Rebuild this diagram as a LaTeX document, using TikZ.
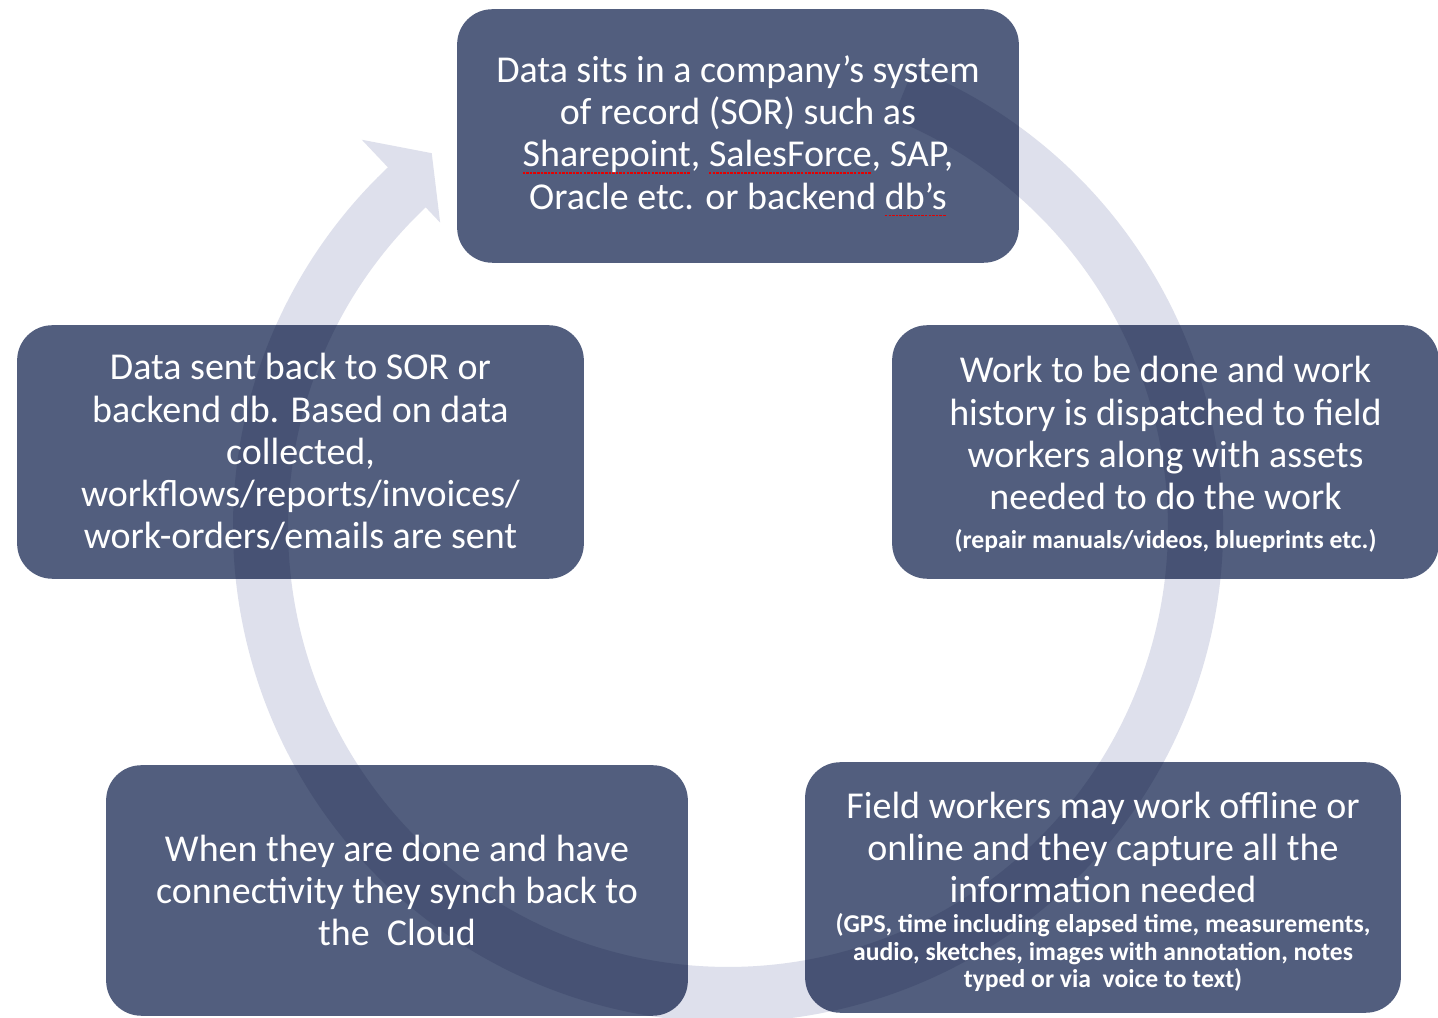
\documentclass[tikz,border=0pt]{standalone}
\usepackage{fontspec}
\setmainfont{Carlito}

\definecolor{cycleblue}{RGB}{82,94,126}
\definecolor{ringgray}{RGB}{222,224,236}

\pgfdeclarelayer{background}
\pgfdeclarelayer{ring}
\pgfsetlayers{background,ring,main}

\newsavebox\spellbox
\newcommand\spellerr[1]{\sbox\spellbox{#1}\rlap{\color{red!90!black}\lower2pt\hbox to \wd\spellbox{\xleaders\hbox{\vrule width 0.7pt height 0.45pt\kern0.3pt}\hfil}}\usebox\spellbox}
\newcommand\smallprint[1]{{\fontsize{7.3}{7.8}\selectfont\bfseries\begin{tabular}[t]{@{}c@{}}#1\end{tabular}}}

\begin{document}
\begin{tikzpicture}[x=0.01cm, y=0.01cm]
   \tikzstyle{every node}=[text=white, align=center, inner sep=0pt, minimum height=2.5cm, font=\fontsize{10.8}{12}\selectfont]
   \tikzstyle{cyclebox}=[fill=cycleblue, rounded corners=10pt]

\useasboundingbox (0,0) rectangle (1438,1018);

\node[minimum width=5.6cm, minimum height=2.52cm] (sor) at (738,882)
   {Data sits in a company’s system\\ of record (SOR) such as\\
    \spellerr{Sharepoint}, \spellerr{SalesForce}, SAP,\\ Oracle etc. or backend \spellerr{db’s}};
\node[minimum width=5.45cm, minimum height=2.52cm] (dispatch) at (1165.5,566)
   {\rule{0pt}{10.2pt}Work to be done and work\\ history is dispatched to field\\ workers along with assets\\ needed to do the work\\[-0.9pt]
    \smallprint{(repair manuals/videos, blueprints etc.)}};
\node[minimum width=5.94cm, minimum height=2.49cm] (capture) at (1103,130.5)
   {\rule{0pt}{11.2pt}Field workers may work offline or\\ online and they capture all the\\ information needed\\[-3.5pt]
    \smallprint{(GPS, time including elapsed time, measurements,\\ audio, sketches, images with annotation, notes\\ typed or via\ \ voice to text)}};
\node[minimum width=5.8cm, minimum height=2.49cm] (synch) at (397,127.5)
   {When they are done and have\\ connectivity they synch back to\\ the\ \ Cloud};
\node[minimum width=5.65cm, minimum height=2.52cm] (sendback) at (300.5,566)
   {Data sent back to SOR or\\ backend db. Based on data\\ collected,\\ workflows/reports/invoices/\\ work-orders/emails are sent};

\begin{pgfonlayer}{background}
\fill[white] (0,0) rectangle (1438,1018);
\foreach \n in {sor,dispatch,capture,synch,sendback}
   \fill[cyclebox] (\n.south west) rectangle (\n.north east);
\end{pgfonlayer}

\coordinate (ctr) at (728,491);
\begin{pgfonlayer}{ring}
\begin{scope}[blend mode=multiply]
\fill[ringgray] ([shift={(68:495)}]ctr) arc[start angle=68, end angle=-226.6, radius=495]
   -- ([shift={(133.4:533)}]ctr) -- ([shift={(128.4:477)}]ctr) -- ([shift={(133.4:419)}]ctr)
   -- ([shift={(133.4:440)}]ctr) arc[start angle=-226.6, end angle=68, radius=440] -- cycle;
\end{scope}
\end{pgfonlayer}

\end{tikzpicture}
\end{document}
